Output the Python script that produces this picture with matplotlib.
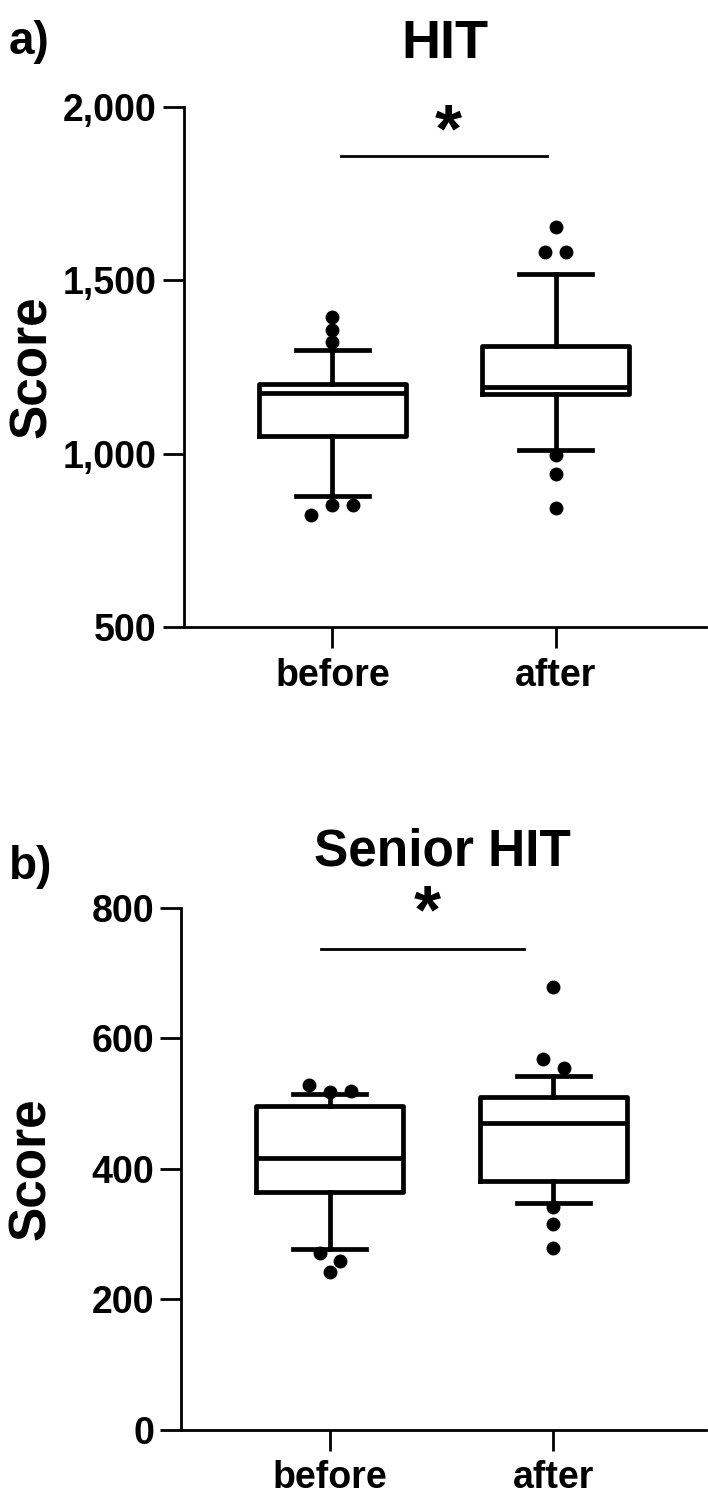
import matplotlib
matplotlib.use("Agg")
import matplotlib.pyplot as plt
from matplotlib.ticker import FuncFormatter

plt.rcParams['font.family'] = ['Liberation Sans', 'DejaVu Sans']
plt.rcParams['font.weight'] = 'bold'

groups = ["before", "after"]

# Panel a: HIT
hit_q1 = [1052, 1171]
hit_med = [1176, 1191]
hit_q3 = [1201, 1310]
hit_lo = [878, 1010]
hit_hi = [1298, 1518]
hit_out_before = [1394, 1357, 1322, 851, 851, 823]
hit_out_after = [1655, 1582, 1582, 997, 942, 843]
hit_off_before = [0, 0, 0, 0, 0.094, -0.094]
hit_off_after = [0, -0.047, 0.047, 0, 0, 0]
hit_yticks = [500, 1000, 1500, 2000]

# Panel b: Senior HIT
sen_q1 = [365, 381]
sen_med = [417, 470]
sen_q3 = [497, 510]
sen_lo = [277, 348]
sen_hi = [515, 542]
sen_out_before = [528, 517, 519, 270, 259, 242]
sen_out_after = [679, 569, 555, 342, 316, 278]
sen_off_before = [-0.094, 0, 0.094, -0.045, 0.045, 0]
sen_off_after = [0, -0.048, 0.048, 0, 0, 0]
sen_yticks = [0, 200, 400, 600, 800]

W, H = 708, 1495
fig = plt.figure(figsize=(W / 100, H / 100), dpi=100)


def px_axes(left, top, right, bottom):
    return fig.add_axes([left / W, 1 - bottom / H, (right - left) / W, (bottom - top) / H])


def draw_panel(ax, q1, med, q3, lo, hi, outs, offs, ylim, yticks, fmt,
               xlim, bar_y, bar_x, star_y):
    stats = []
    for i, g in enumerate(groups):
        stats.append(dict(med=med[i], q1=q1[i], q3=q3[i], whislo=lo[i],
                          whishi=hi[i], fliers=[], label=g))
    lw = 3.4
    ax.bxp(stats, positions=[0, 1], widths=0.658, capwidths=0.327,
           showfliers=False,
           boxprops=dict(color='black', linewidth=lw),
           medianprops=dict(color='black', linewidth=lw),
           whiskerprops=dict(color='black', linewidth=lw),
           capprops=dict(color='black', linewidth=lw))
    for i, (vals, o) in enumerate(zip(outs, offs)):
        ax.plot([i + d for d in o], vals, 'o', color='black', ms=9,
                clip_on=False, zorder=5)
    ax.set_xlim(*xlim)
    ax.set_ylim(*ylim)
    ax.set_yticks(yticks)
    ax.yaxis.set_major_formatter(FuncFormatter(fmt))
    ax.set_xticks([0, 1])
    ax.set_xticklabels(groups)
    for s in ['top', 'right']:
        ax.spines[s].set_visible(False)
    for s in ['left', 'bottom']:
        ax.spines[s].set_linewidth(2)
    ax.tick_params(axis='both', length=15, width=2, labelsize=27)
    ax.tick_params(axis='y', pad=4.5)
    ax.tick_params(axis='x', pad=7)
    for t in ax.get_xticklabels() + ax.get_yticklabels():
        t.set_fontweight('bold')
    ax.set_ylabel("Score", fontsize=37, fontweight='bold')
    ax.plot(bar_x, [bar_y, bar_y], color='black', lw=2, clip_on=False)
    ax.text(sum(bar_x) / 2 + 0.02, star_y, "*", ha='center', va='center',
            fontsize=50, fontweight='bold', clip_on=False)


axa = px_axes(184, 107, 706, 627)
draw_panel(axa, hit_q1, hit_med, hit_q3, hit_lo, hit_hi,
           [hit_out_before, hit_out_after], [hit_off_before, hit_off_after],
           (500, 2000), hit_yticks, lambda v, p: f"{int(v):,}",
           (-0.665, 1.673), 1858, [0.04, 0.96], 1925)
axa.yaxis.set_label_coords(-0.243, 0.5)

axb = px_axes(181, 908, 706, 1429.5)
draw_panel(axb, sen_q1, sen_med, sen_q3, sen_lo, sen_hi,
           [sen_out_before, sen_out_after], [sen_off_before, sen_off_after],
           (0, 800), sen_yticks, lambda v, p: f"{int(v)}",
           (-0.667, 1.684), 737, [-0.04, 0.87], 790)
axb.yaxis.set_label_coords(-0.238, 0.5)

fig.text(445 / W, 1 - 58 / H, "HIT", ha='center', va='baseline',
         fontsize=39, fontweight='bold')
fig.text(9 / W, 1 - 54 / H, "a)", ha='left', va='baseline',
         fontsize=33, fontweight='bold')
fig.text(442 / W, 1 - 866 / H, "Senior HIT", ha='center', va='baseline',
         fontsize=37, fontweight='bold')
fig.text(9 / W, 1 - 879 / H, "b)", ha='left', va='baseline',
         fontsize=33, fontweight='bold')

fig.savefig("out.png", dpi=100)
